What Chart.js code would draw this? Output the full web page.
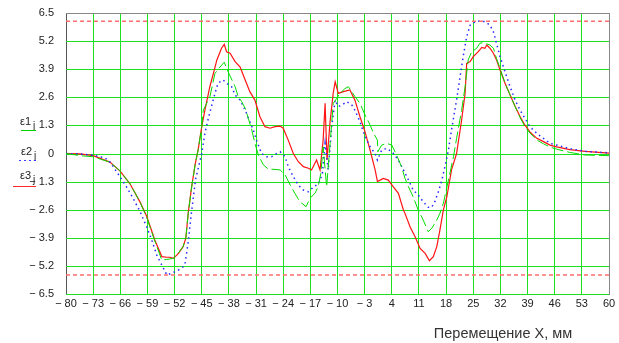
<!DOCTYPE html>
<html>
<head>
<meta charset="utf-8">
<script src="https://cdn.jsdelivr.net/npm/chart.js@4.4.0/dist/chart.umd.min.js"></script>
<style>
    html, body { margin: 0; padding: 0; background: #fff; }
    #wrap { width: 619px; height: 343px; position: relative; }
</style>
</head>
<body>
<div id="wrap"><canvas id="grafico" width="619" height="343"></canvas></div>
<script>
// Ejes
const xTicks = [-80, -73, -66, -59, -52, -45, -38, -31, -24, -17, -10, -3, 4, 11, 18, 25, 32, 39, 46, 53, 60];
const yTicks = [-6.5, -5.2, -3.9, -2.6, -1.3, 0, 1.3, 2.6, 3.9, 5.2, 6.5];

// ε1 (verde, discontinua)
const x1 = [-80, -76.4, -73, -68.7, -66.1, -63.5, -60.9, -59.2, -57.1, -55.3, -54, -52.3, -51, -49.8, -49.1, -48.5, -47.6, -46.7, -45.9, -45,
    -44.6, -42.9, -41.6, -40.3, -39.2, -38.2, -36.4, -35.6, -34.7, -33.8, -33, -32.1, -31.3, -30.4, -29.1, -27.8, -26.6, -24.8, -23.5, -22.2,
    -21, -19.7, -18.1, -17.1, -15.8, -15, -14.3, -13.7, -12.8, -11.9, -11.5, -11.1, -10.2, -9.4, -8.1, -7.2, -6.3, -5.5, -4.2, -2.9,
    -1.6, -0.7, 0.3, 0.4, 1.4, 2.7, 4, 5.3, 6.5, 7.4, 8.3, 9.5, 10.8, 12.1, 13.4, 14.3, 15.6, 16.4, 17.3, 18.6,
    19.9, 20.7, 22, 22.9, 23.7, 24.6, 25.9, 26.7, 27.6, 28.5, 29.3, 30.2, 31, 31.9, 33.2, 34.5, 35.8, 37.1, 38.3, 39.6,
    41.4, 43.1, 44.8, 46.5, 49.9, 53.8, 60];
const e1 = [0, -0.1, -0.15, -0.4, -0.8, -1.4, -2.25, -2.95, -4.05, -4.93, -4.9, -4.85, -4.6, -4.3, -3.9, -2.8, -1.55, -0.5, 0.2, 1.24,
    2.0, 2.63, 3.7, 4.0, 4.22, 3.78, 3.09, 2.63, 2.4, 2.09, 1.63, 1.09, 0.47, -0.07, -0.53, -0.73, -0.73, -0.76, -0.99, -1.46,
    -1.84, -2.23, -2.46, -2.07, -1.84, -1.54, -0.92, 0.31, -1.54, 0.47, 1.4, 2.32, 2.55, 2.78, 3.0, 3.09, 2.86, 2.63, 2.32, 1.78,
    1.32, 0.93, 0.62, 0.08, 0.39, 0.47, 0.39, -0.1, -0.61, -1.15, -1.54, -2.0, -2.61, -3.08, -3.62, -3.46, -3.08, -2.77, -2.3, -1.23,
    -0.15, 0.7, 2.0, 3.09, 4.33, 4.71, 4.87, 5.1, 5.13, 5.07, 5.02, 4.87, 4.4, 3.94, 3.25, 2.71, 2.17, 1.65, 1.25, 0.95,
    0.62, 0.45, 0.3, 0.2, 0.05, -0.07, -0.1];

// ε2 (azul, punteada)
const x2 = [-80, -76.4, -73, -70, -68.7, -66.1, -64.4, -62.7, -60.9, -59.2, -57.9, -56.6, -55.3, -54, -52.7, -51, -49.8, -49.3, -48.5, -47.7,
    -46.6, -45, -44.2, -43.3, -42.5, -41.6, -40.8, -39.5, -38.6, -37.3, -36.4, -35.1, -33.8, -32.6, -31.7, -30.9, -29.6, -28.3, -27, -25.7,
    -24.8, -23.5, -22.7, -21.4, -20.1, -18.8, -17.5, -16.1, -14.8, -13.9, -13.2, -12.4, -11.5, -10.6, -9.8, -8.9, -7.6, -6.3, -5.5, -4.2,
    -2.9, -1.6, -0.3, 0.3, 1.4, 2.7, 4, 4.4, 5.7, 7, 8.3, 9.5, 10.8, 12.1, 13.4, 14.3, 15.1, 16, 16.9, 17.7,
    18.6, 19.4, 20.7, 21.6, 22.4, 23.3, 24.2, 25.5, 26.7, 28, 29.3, 30.2, 31, 31.9, 33.2, 34.5, 35.8, 37.1, 38.3, 39.6,
    41.4, 43.1, 44.8, 46.5, 49.9, 53.8, 60];
const e2 = [0, -0.02, -0.08, -0.2, -0.38, -1.07, -1.54, -2.07, -2.69, -3.39, -4.0, -4.7, -5.16, -5.62, -5.54, -5.39, -5.24, -5.1, -4.1, -2.8,
    -1.2, 0, 0.93, 1.63, 2.17, 2.78, 3.25, 3.4, 3.25, 3.09, 2.71, 2.47, 2.0, 1.47, 1.09, 0.62, 0, -0.15, -0.15, 0,
    0.08, -0.15, -0.61, -1.07, -1.46, -1.69, -1.77, -1.54, -1.38, -0.92, 0.47, -0.76, 1.24, 2.47, 2.17, 2.24, 2.4, 2.24, 2.0, 1.47,
    0.78, 0.31, 0, -0.3, 0.16, 0.24, 0.08, 0, -0.3, -0.76, -1.23, -1.69, -1.92, -2.23, -2.49, -2.49, -2.23, -1.77, -1.23, -0.61,
    0.16, 1.1, 2.47, 3.55, 4.48, 5.4, 5.94, 6.1, 6.13, 6.1, 5.94, 5.63, 5.1, 4.48, 3.78, 3.09, 2.47, 2.0, 1.63, 1.24,
    0.93, 0.7, 0.47, 0.39, 0.22, 0.1, 0.03];

// ε3 (rojo, continua)
const x3 = [-80, -76.4, -73, -68.7, -66.1, -63.5, -60.9, -59.2, -57.1, -55.3, -54, -53.2, -52.3, -51, -49.8, -49.1, -48.5, -47.6, -46.7, -45.9,
    -45, -44.2, -42.9, -42, -41.1, -39.9, -39.2, -38.6, -37.7, -36.4, -35.1, -33.8, -32.6, -31.3, -30, -28.7, -27.4, -26.1, -24.8, -24,
    -22.7, -21.4, -20.1, -18.8, -17.5, -16.7, -15.4, -14.5, -13.7, -13.2, -12.7, -11.9, -11.1, -10.6, -9.8, -8.5, -6.8, -5.5, -4.2, -2.9,
    -1.6, -0.3, 0.3, 1.8, 3.1, 4.4, 5.7, 7, 7.4, 8.7, 10, 11.3, 12.6, 13.7, 14.7, 15.6, 16.4, 17.3, 18.2, 19.4,
    20.7, 22, 22.9, 23.3, 24.2, 25, 26.3, 27.2, 28, 28.5, 29.3, 30.2, 31, 31.9, 33.2, 34.5, 35.8, 37.1, 38.3, 39.6,
    41.4, 43.1, 44.8, 46.5, 49.9, 53.8, 60];
const e3 = [0, -0.02, -0.1, -0.4, -0.8, -1.4, -2.25, -2.9, -4.0, -4.77, -4.8, -4.8, -4.85, -4.62, -4.31, -3.92, -2.77, -1.53, -0.5, 0.2,
    1.24, 2.0, 3.1, 3.7, 4.33, 4.87, 5.05, 4.71, 4.64, 4.25, 4.0, 3.4, 2.86, 2.47, 1.7, 1.24, 1.17, 1.24, 1.27, 1.17,
    0.62, 0, -0.38, -0.61, -0.68, -0.76, -0.3, -0.76, 0.62, 2.32, -0.3, 1.5, 2.8, 3.32, 2.78, 2.86, 2.94, 2.47, 1.7, 1.0,
    0.16, -0.76, -1.3, -1.15, -1.23, -1.54, -1.84, -2.61, -2.77, -3.39, -3.85, -4.39, -4.62, -4.96, -4.77, -4.31, -3.54, -2.61, -2.0, -0.76,
    0.0, 1.55, 2.78, 4.17, 4.25, 4.48, 4.71, 4.91, 4.87, 5.02, 4.87, 4.64, 4.33, 3.86, 3.25, 2.71, 2.17, 1.7, 1.32, 1.0,
    0.7, 0.55, 0.39, 0.31, 0.18, 0.1, 0.02];

// Límites (rojo claro, discontinua)
const limiteSup = 6.12;
const limiteInf = -5.62;

const puntos = (xs, ys) => xs.map((x, i) => ({ x: x, y: ys[i] }));
const linea = v => [{ x: xTicks[0], y: v }, { x: xTicks[xTicks.length - 1], y: v }];

function formatoNum(v) {
    const n = Math.round(v * 10) / 10;
    if (n === 0) return '0';
    const s = Number.isInteger(n) ? String(Math.abs(n)) : Math.abs(n).toFixed(1);
    return n < 0 ? '\u2212 ' + s : s;
}

const VERDE = 'rgb(30,225,30)';

// Rejilla horizontal (la dibujamos nosotros, antes de las curvas)
const rejillaY = {
    id: 'rejillaY',
    beforeDatasetsDraw(chart) {
        const c = chart.ctx;
        const a = chart.chartArea;
        const ys = chart.scales.y;
        c.save();
        c.lineWidth = 1;
        yTicks.forEach(v => {
            const py = Math.round(ys.getPixelForValue(v)) + 0.5;
            c.strokeStyle = (v === 6.5) ? '#888' : VERDE;
            c.beginPath();
            c.moveTo(a.left, py);
            c.lineTo(a.right, py);
            c.stroke();
        });
        c.restore();
    }
};

// Leyenda y título del eje X dibujados a mano (subíndices)
const extras = {
    id: 'extras',
    afterDraw(chart) {
        const c = chart.ctx;
        c.save();
        const items = [
            { n: '1', ty: 122, ly: 130.5, x0: 21, x1: 36, color: 'rgb(0,210,0)', dash: [] },
            { n: '2', ty: 152, ly: 160.5, x0: 19, x1: 37, color: 'rgb(60,60,255)', dash: [2, 3] },
            { n: '3', ty: 176, ly: 186.5, x0: 13, x1: 36, color: 'rgb(255,40,40)', dash: [] }
        ];
        items.forEach(it => {
            c.fillStyle = '#222';
            c.textBaseline = 'middle';
            c.textAlign = 'left';
            c.font = '11px "Liberation Sans", Arial, sans-serif';
            const tx = it.x1 - 16;
            c.fillText('\u03b5' + it.n, tx, it.ty);
            const w = c.measureText('\u03b5' + it.n).width;
            c.font = '10px "Liberation Sans", Arial, sans-serif';
            c.fillText('j', tx + w + 2, it.ty + 4);
            c.strokeStyle = it.color;
            c.lineWidth = 1;
            c.setLineDash(it.dash);
            c.beginPath();
            c.moveTo(it.x0, it.ly);
            c.lineTo(it.x1, it.ly);
            c.stroke();
            c.setLineDash([]);
        });
        c.fillStyle = '#333';
        c.font = '14.5px "Liberation Sans", Arial, sans-serif';
        c.textAlign = 'center';
        c.textBaseline = 'middle';
        c.fillText('Перемещение X, мм', 503, 334);
        c.restore();
    }
};

const ctx = document.getElementById('grafico');
new Chart(ctx, {
    type: 'line',
    data: {
        datasets: [
            {
                label: 'lim+',
                data: linea(limiteSup),
                borderColor: 'rgb(255,110,110)',
                borderWidth: 1.5,
                borderDash: [4, 3],
                pointRadius: 0
            },
            {
                label: 'lim-',
                data: linea(limiteInf),
                borderColor: 'rgb(255,110,110)',
                borderWidth: 1.5,
                borderDash: [4, 3],
                pointRadius: 0
            },
            {
                label: 'ε1',
                data: puntos(x1, e1),
                borderColor: 'rgb(0,220,0)',
                borderWidth: 1,
                borderDash: [12, 4],
                pointRadius: 0,
                tension: 0
            },
            {
                label: 'ε2',
                data: puntos(x2, e2),
                borderColor: 'rgb(40,40,255)',
                borderWidth: 1.5,
                borderDash: [1.5, 3.5],
                pointRadius: 0,
                tension: 0
            },
            {
                label: 'ε3',
                data: puntos(x3, e3),
                borderColor: 'rgb(255,20,20)',
                borderWidth: 1.2,
                pointRadius: 0,
                tension: 0
            }
        ]
    },
    options: {
        responsive: false,
        animation: false,
        layout: { padding: { left: 0, right: 10, top: 13, bottom: 0 } },
        plugins: {
            legend: { display: false },
            tooltip: { enabled: false }
        },
        scales: {
            x: {
                type: 'linear',
                min: -80,
                max: 60,
                afterBuildTicks: s => { s.ticks = xTicks.map(v => ({ value: v })); },
                afterFit: s => { s.height = 49; },
                ticks: {
                    autoSkip: false,
                    maxRotation: 0,
                    padding: 3,
                    color: '#222',
                    font: { family: '"Liberation Sans", Arial, sans-serif', size: 11 },
                    callback: v => formatoNum(v)
                },
                grid: {
                    drawTicks: false,
                    color: c => (c.tick && c.tick.value === 60) ? '#888' : VERDE,
                    lineWidth: 1
                },
                border: { display: true, color: '#888', width: 1 }
            },
            y: {
                type: 'linear',
                min: -6.5,
                max: 6.5,
                afterBuildTicks: s => { s.ticks = yTicks.map(v => ({ value: v })); },
                afterFit: s => { s.width = 66; },
                ticks: {
                    autoSkip: false,
                    padding: 4,
                    color: '#222',
                    font: { family: '"Liberation Sans", Arial, sans-serif', size: 11 },
                    callback: v => formatoNum(v)
                },
                grid: { display: false },
                border: { display: true, color: '#555', width: 1 }
            }
        }
    },
    plugins: [rejillaY, extras]
});
</script>
</body>
</html>
